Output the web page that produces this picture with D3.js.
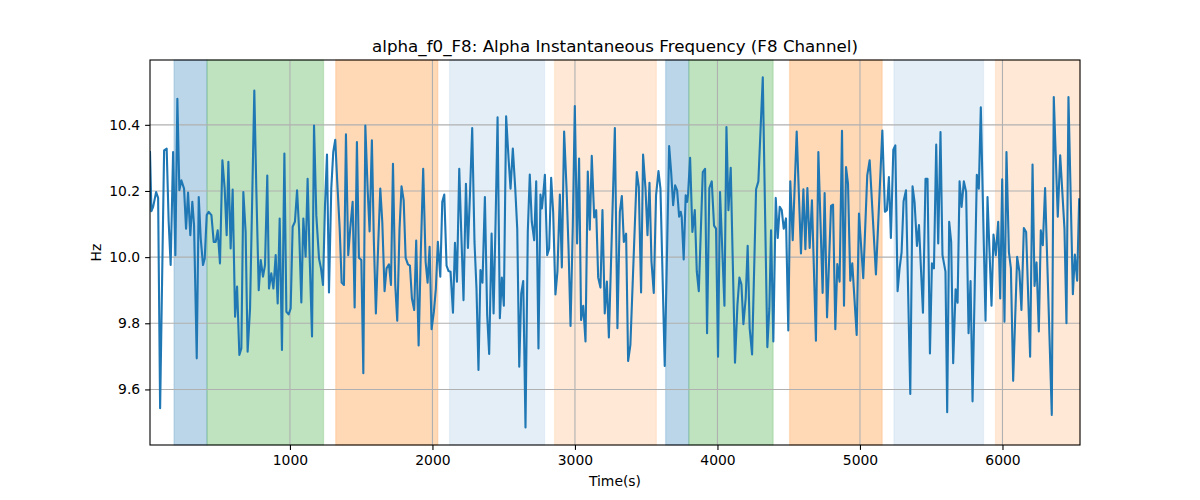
<!DOCTYPE html>
<html>
<head>
<meta charset="utf-8">
<script src="https://cdn.jsdelivr.net/npm/d3@7"></script>
<style>
  body { margin: 0; background: #fff; }
  text { font-family: "DejaVu Sans", sans-serif; }
</style>
</head>
<body>
<div id="chart"></div>
<script>
// ************************** data **************************
const times = [
  18, 28, 40, 61, 75, 89, 117, 135, 149, 163, 180, 196, 210, 224, 238, 257, 271, 285, 301, 315,
  327, 346, 360, 374, 390, 402, 416, 430, 449, 465, 479, 493, 509, 526, 542, 556, 568, 584, 598, 615,
  629, 645, 659, 673, 689, 703, 720, 750, 764, 781, 795, 811, 825, 841, 853, 869, 884, 900, 914, 928,
  944, 961, 975, 991, 1005, 1019, 1035, 1050, 1064, 1080, 1094,
  1110, 1124, 1138, 1155, 1169, 1185, 1204, 1218, 1232, 1246, 1260, 1274, 1290, 1304, 1318, 1332,
  1349, 1363, 1379, 1393, 1409, 1423, 1440, 1454, 1470, 1484, 1501, 1515, 1529, 1545, 1559, 1575,
  1589, 1603, 1620, 1634, 1648, 1664, 1678, 1695, 1709, 1723, 1739, 1753, 1769, 1783, 1798, 1812,
  1828, 1842, 1856, 1872, 1886, 1903, 1919, 1935, 1952, 1966, 1980, 1994, 2010, 2024, 2038, 2055,
  2069, 2083, 2099, 2113, 2127, 2144, 2158, 2172, 2188,
  2202, 2218, 2235, 2249, 2263, 2279, 2295, 2309, 2323, 2337, 2351, 2368, 2384, 2398, 2415, 2429,
  2443, 2457, 2473, 2487, 2501, 2517, 2534, 2548, 2564, 2581, 2595, 2609, 2623, 2637, 2653, 2669,
  2683, 2697, 2714, 2728, 2744, 2758, 2768, 2777, 2789, 2805, 2819, 2833, 2847, 2863, 2877, 2894,
  2908, 2924, 2941, 2955, 2969, 2985, 2999, 3015, 3029, 3043, 3058, 3074, 3090, 3104, 3118, 3135,
  3149, 3163, 3179, 3193, 3209, 3224, 3238, 3280,
  3298, 3315, 3329, 3343, 3359, 3373, 3389, 3434, 3448, 3464, 3478, 3495, 3509, 3523, 3537, 3553,
  3569, 3586, 3600, 3630, 3661, 3675, 3689, 3703, 3717, 3731, 3742, 3749, 3763, 3777, 3787, 3794,
  3808, 3824, 3841, 3855, 3869, 3897, 3913, 3927, 3943, 3960, 3976, 3990, 4004, 4018, 4049, 4063,
  4077, 4093, 4123, 4140, 4154, 4168, 4182, 4198, 4212, 4226, 4243, 4271, 4287, 4318, 4350, 4364,
  4376, 4392, 4409, 4423, 4437, 4451, 4465, 4481, 4497, 4511, 4528, 4556, 4586, 4603, 4617, 4631,
  4647, 4663, 4691, 4708, 4738, 4752, 4769, 4797, 4811, 4827, 4841, 4857, 4874, 4888, 4902, 4916,
  4932, 4946, 4977, 4993, 5023, 5051, 5068, 5112, 5157, 5175, 5189, 5203, 5217, 5234, 5248, 5264,
  5278, 5292, 5306, 5323, 5353, 5369, 5383, 5400, 5414, 5442,
  5460, 5474, 5491, 5505, 5519, 5535, 5549, 5565, 5579, 5600, 5612, 5626, 5640, 5654, 5671, 5685,
  5699, 5713, 5729, 5745, 5762, 5776, 5790, 5820, 5834, 5848, 5881, 5895, 5923, 5937, 5953, 5970,
  5984, 5998, 6014, 6028, 6045, 6059, 6075, 6103, 6119, 6133, 6150, 6166, 6194, 6211, 6225, 6239,
  6255, 6269, 6283, 6299, 6346, 6360, 6388, 6405, 6435, 6449, 6463, 6494, 6508, 6524, 6538
];

const alphaF0 = [
  10.318, 10.139, 10.152, 10.197, 10.179, 9.543, 10.323, 10.328, 10.107, 9.976, 10.318, 10.006, 10.479, 10.202, 10.232, 10.207, 10.086, 10.195, 10.066, 10.167,
  10.097, 9.694, 10.182, 10.056, 9.976, 9.996, 10.127, 10.137, 10.127, 10.046, 10.046, 10.081, 9.981, 10.293, 10.207, 10.066, 10.288, 10.026, 10.204, 9.820,
  9.911, 9.704, 9.724, 10.197, 10.076, 9.714, 9.845, 10.504, 10.207, 9.900, 9.991, 9.941, 9.976, 10.247, 9.905, 9.951, 9.905, 10.006, 9.860, 10.117,
  9.719, 10.313, 9.835, 9.827, 9.845, 10.092, 10.107, 10.202, 10.086, 9.863, 10.117,
  10.001, 10.237, 10.006, 9.760, 10.398, 10.127, 9.996, 9.966, 9.916, 10.157, 10.310, 9.893, 10.207, 10.318, 10.355, 10.227,
  10.086, 9.923, 9.916, 10.371, 10.006, 10.086, 10.167, 9.848, 10.348, 9.998, 9.991, 9.649, 10.398, 10.207, 10.078, 10.353,
  10.046, 9.830, 10.046, 10.207, 10.107, 9.897, 9.966, 9.978, 9.916, 10.282, 9.916, 9.808, 10.086, 10.214, 10.172, 9.998,
  9.978, 9.974, 9.875, 9.840, 10.050, 9.733, 10.026, 10.267, 9.986, 9.923, 10.031, 9.782, 9.835, 9.905, 10.046, 9.941,
  10.167, 10.189, 9.974, 9.958, 9.956, 9.832, 10.043, 9.926, 10.267,
  10.076, 9.870, 10.222, 10.028, 10.187, 10.390, 10.046, 9.905, 9.659, 9.961, 9.923, 10.182, 9.825, 9.707, 10.071, 9.830,
  10.107, 10.423, 9.815, 9.938, 9.853, 10.426, 10.298, 10.207, 10.328, 10.207, 10.086, 9.669, 9.890, 9.928, 9.485, 10.076,
  10.250, 10.107, 10.051, 10.229, 9.724, 10.189, 10.147, 10.187, 10.249, 10.006, 10.026, 10.240, 10.137, 9.887, 9.956, 10.189,
  9.969, 10.380, 10.207, 10.026, 9.792, 10.097, 10.457, 10.041, 10.298, 9.810, 9.853, 9.745, 10.259, 10.083, 10.306, 10.120,
  10.142, 9.938, 9.908, 10.142, 9.830, 9.926, 9.757, 10.390,
  9.785, 10.137, 10.185, 10.046, 10.071, 9.686, 9.735, 10.257, 10.212, 9.893, 10.310, 10.207, 10.066, 10.225, 9.986, 9.892,
  10.187, 10.260, 10.207, 9.671, 10.336, 10.257, 10.157, 10.217, 10.202, 10.122, 10.137, 10.122, 9.993, 10.187, 10.167, 10.192,
  10.300, 10.076, 10.142, 9.956, 9.897, 10.257, 10.267, 9.770, 10.209, 10.229, 10.095, 10.086, 9.699, 10.197, 9.853, 10.393,
  10.142, 10.270, 9.681, 9.855, 9.938, 9.918, 9.797, 9.875, 10.034, 9.785, 9.706, 10.205, 10.229, 10.544, 9.728, 9.845,
  10.081, 9.745, 10.179, 10.058, 10.152, 10.142, 10.086, 10.117, 9.778, 10.229, 10.051, 10.380, 10.011, 10.205, 10.024, 10.209,
  10.028, 10.172, 9.747, 10.318, 9.892, 10.194, 9.818, 10.155, 10.159, 9.782, 9.979, 9.926, 10.382, 9.853, 10.272, 10.222,
  9.929, 9.981, 9.765, 10.132, 9.936, 10.247, 10.293, 9.948, 10.383, 10.137, 10.142, 10.242, 10.058, 10.325, 10.338, 9.897,
  9.966, 10.014, 10.169, 10.202, 9.586, 10.214, 10.167, 10.034, 10.097, 9.832,
  10.237, 10.237, 9.709, 9.981, 9.966, 10.340, 10.041, 10.378, 10.006, 9.956, 9.531, 10.107, 10.046, 9.679, 9.903, 9.862,
  10.229, 10.152, 10.229, 10.197, 9.770, 9.928, 9.564, 10.249, 10.207, 10.453, 9.808, 10.182, 9.853, 10.068, 10.006, 10.107,
  9.875, 10.235, 9.805, 10.318, 10.016, 9.966, 9.626, 10.001, 9.956, 9.840, 10.088, 10.076, 9.699, 10.280, 9.913, 9.984,
  9.775, 10.081, 10.036, 10.209, 9.523, 10.484, 10.122, 10.308, 10.086, 9.800, 10.484, 9.888, 10.008, 9.929, 10.175
];

// shaded intervals (start, end in seconds) and their kind
const spanStart = [186, 418, 1321, 2120, 2857, 3636, 3799, 4506, 5238, 5951];
const spanEnd = [418, 1236, 2038, 2787, 3571, 3799, 4391, 5156, 5867, 6544];
const spanKind = ["A", "B", "C", "D", "E", "A", "B", "C", "D", "E"];

const xTicks = [1000, 2000, 3000, 4000, 5000, 6000];
const yTicks = [9.6, 9.8, 10.0, 10.2, 10.4];

// ************************** chart **************************
const width = 1200;
const height = 500;
const marginTop = 60;
const marginRight = 120;
const marginBottom = 55;
const marginLeft = 150;

const xScale = d3.scaleLinear([18, 6544], [marginLeft, width - marginRight]);
const yScale = d3.scaleLinear([9.432, 10.596], [height - marginBottom, marginTop]);

const kindColor = d3
  .scaleOrdinal()
  .domain(["A", "B", "C", "D", "E"])
  .range(["#1f77b4", "#2ca02c", "#ff7f0e", "#1f77b4", "#ff7f0e"]);
const kindOpacity = d3
  .scaleOrdinal()
  .domain(["A", "B", "C", "D", "E"])
  .range([0.3, 0.3, 0.3, 0.12, 0.17]);

const svg = d3
  .select("#chart")
  .append("svg")
  .attr("width", width)
  .attr("height", height);

svg.append("rect").attr("width", width).attr("height", height).attr("fill", "#fff");

// spans
svg
  .append("g")
  .selectAll("rect")
  .data(d3.range(spanStart.length))
  .join("rect")
  .attr("x", (i) => xScale(spanStart[i]))
  .attr("y", marginTop)
  .attr("width", (i) => xScale(Math.min(spanEnd[i], 6544)) - xScale(spanStart[i]))
  .attr("height", height - marginBottom - marginTop)
  .attr("fill", (i) => kindColor(spanKind[i]))
  .attr("fill-opacity", (i) => kindOpacity(spanKind[i]))
  .attr("stroke", (i) => kindColor(spanKind[i]))
  .attr("stroke-opacity", (i) => kindOpacity(spanKind[i]) * 0.6)
  .attr("stroke-width", 1.3);

// grid
const grid = svg.append("g").attr("stroke", "#b0b0b0").attr("stroke-width", 1.1);
grid
  .selectAll(".gx")
  .data(xTicks)
  .join("line")
  .attr("x1", (d) => xScale(d))
  .attr("x2", (d) => xScale(d))
  .attr("y1", marginTop)
  .attr("y2", height - marginBottom);
grid
  .selectAll(".gy")
  .data(yTicks)
  .join("line")
  .attr("x1", marginLeft)
  .attr("x2", width - marginRight)
  .attr("y1", (d) => yScale(d))
  .attr("y2", (d) => yScale(d));

// line
const line = d3
  .line()
  .x((d, i) => xScale(times[i]))
  .y((d) => yScale(d));

svg
  .append("defs")
  .append("clipPath")
  .attr("id", "clip")
  .append("rect")
  .attr("x", marginLeft)
  .attr("y", marginTop)
  .attr("width", width - marginLeft - marginRight)
  .attr("height", height - marginTop - marginBottom);

svg
  .append("path")
  .attr("clip-path", "url(#clip)")
  .attr("fill", "none")
  .attr("stroke", "#1f77b4")
  .attr("stroke-width", 2.1)
  .attr("stroke-linejoin", "round")
  .attr("stroke-linecap", "square")
  .attr("d", line(alphaF0));

// axes
const xAxis = d3
  .axisBottom(xScale)
  .tickValues(xTicks)
  .tickFormat(d3.format("d"))
  .tickSizeOuter(0)
  .tickSize(4.9)
  .tickPadding(4.9);
const yAxis = d3
  .axisLeft(yScale)
  .tickValues(yTicks)
  .tickFormat(d3.format(".1f"))
  .tickSizeOuter(0)
  .tickSize(4.9)
  .tickPadding(4.9);

svg
  .append("g")
  .attr("transform", `translate(0,${height - marginBottom})`)
  .call(xAxis)
  .call((g) => g.select(".domain").remove())
  .call((g) => g.selectAll(".tick line").attr("stroke", "#000").attr("stroke-width", 1.1))
  .call((g) => g.selectAll(".tick text").attr("fill", "#000").attr("font-size", 13.9).attr("font-family", "DejaVu Sans"));

svg
  .append("g")
  .attr("transform", `translate(${marginLeft},0)`)
  .call(yAxis)
  .call((g) => g.select(".domain").remove())
  .call((g) => g.selectAll(".tick line").attr("stroke", "#000").attr("stroke-width", 1.1))
  .call((g) => g.selectAll(".tick text").attr("fill", "#000").attr("font-size", 13.9).attr("font-family", "DejaVu Sans"));

// frame
svg
  .append("rect")
  .attr("x", marginLeft)
  .attr("y", marginTop)
  .attr("width", width - marginLeft - marginRight)
  .attr("height", height - marginTop - marginBottom)
  .attr("fill", "none")
  .attr("stroke", "#000")
  .attr("stroke-width", 1.1);

// labels
svg
  .append("text")
  .attr("x", (marginLeft + width - marginRight) / 2)
  .attr("y", 52)
  .attr("text-anchor", "middle")
  .attr("font-size", 16.7)
  .attr("fill", "#000")
  .text("alpha_f0_F8: Alpha Instantaneous Frequency (F8 Channel)");

svg
  .append("text")
  .attr("x", (marginLeft + width - marginRight) / 2)
  .attr("y", 486)
  .attr("text-anchor", "middle")
  .attr("font-size", 13.9)
  .attr("fill", "#000")
  .text("Time(s)");

svg
  .append("text")
  .attr("transform", `translate(101,${(marginTop + height - marginBottom) / 2}) rotate(-90)`)
  .attr("text-anchor", "middle")
  .attr("font-size", 13.9)
  .attr("fill", "#000")
  .text("Hz");
</script>
</body>
</html>
